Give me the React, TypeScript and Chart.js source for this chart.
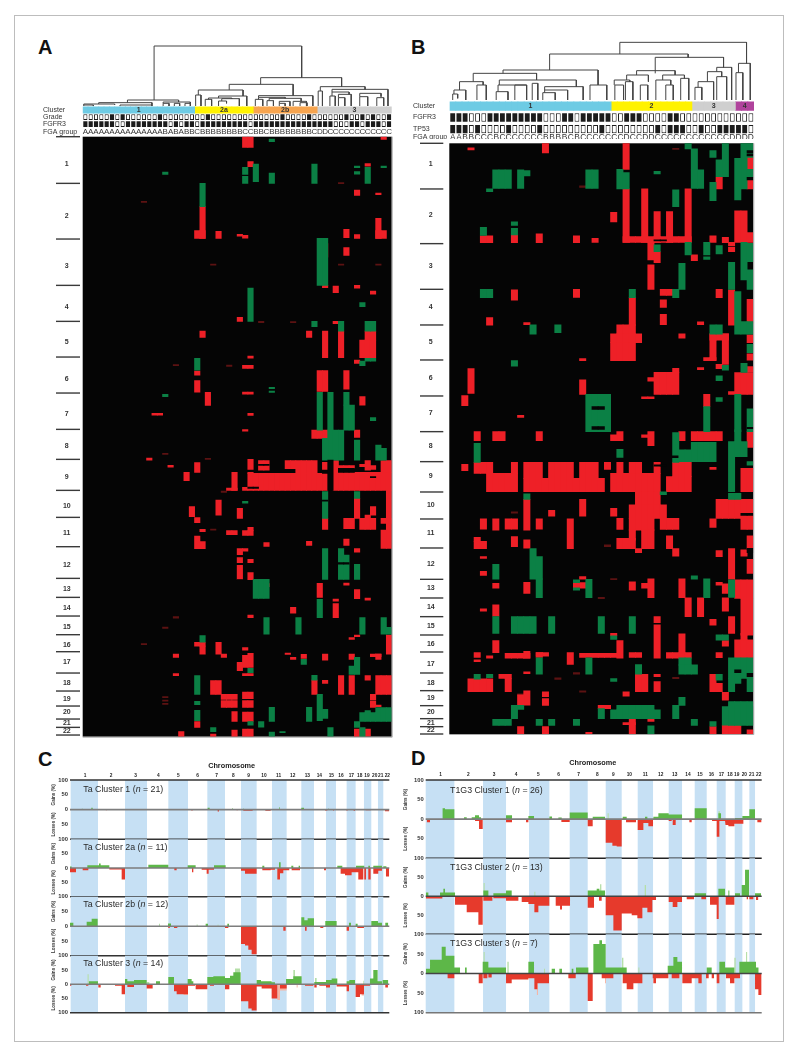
import React, { useEffect, useRef } from "react";
import { Chart, registerables } from "chart.js";

Chart.register(...registerables);

const SANS = '"Liberation Sans", Arial, sans-serif';
const INK = "#2a2a2a";
const RED = "#ee2027";
const GREEN = "#0b8045";
const FAINT = "#5c1212";
const PALE_GAIN = "#b5dfa8";
const PALE_LOSS = "#f5b5a5";
const GAIN = "#5db748";
const LOSS = "#e63a2c";
const BAND = "#c6e0f4";

// ---------- Panel A: samples, clusters, annotations ----------
const clustersA = [
  { name: "1", n: 21, color: "#6ecbe4" },
  { name: "2a", n: 11, color: "#fff200" },
  { name: "2b", n: 12, color: "#f6a44f" },
  { name: "3", n: 14, color: "#cfcfcf" },
];
const gradeA = "0000010100000010000000010000000000000100001000000100101001".split("");
const fgfr3A = "1111110011111111010110111111111011111111111111100011011101".split("");
const fgaA = "AAAAAAAAAAAAAAABABABBCBBBBBBBBCCBBCBBBBBBBBCDDCCCCCCCCCCCC".split("");

// merges: [left leaf, right leaf, merge height, left drop-to height, right drop-to height]
const dendroA = [
  [13.4, 41.1, 180, 18, 85], [33.4, 48.6, 85, 65, 58], [27.5, 39.5, 65, 48, 31],
  [21.7, 30.1, 48, 33, 30], [21.2, 22.2, 33, 0, 0], [25.5, 30.8, 30, 24, 0],
  [23.6, 28, 24, 20, 22], [23, 24.2, 20, 0, 0], [26.1, 29.4, 22, 15, 0], [25.5, 27, 15, 0, 8],
  [33, 43.2, 31, 26, 0], [33, 38, 26, 20, 23], [32.4, 33.8, 20, 0, 0],
  [35, 41, 23, 16, 14], [34.6, 35.8, 16, 0, 0], [36.9, 38.9, 14, 8, 0], [36.9, 38, 8, 0, 0],
  [39.5, 42, 14, 0, 0], [40.8, 42.1, 10, 0, 0],
  [44.6, 53, 58, 45, 50], [44.2, 45, 45, 0, 0], [46.8, 57.3, 50, 42, 0], [46.8, 50, 42, 30, 35],
  [46.4, 47.4, 30, 0, 0], [48, 50.4, 35, 25, 0], [48, 49.2, 25, 0, 0],
  [52, 56, 38, 28, 28], [52, 53.5, 28, 0, 0], [55.2, 56.5, 25, 0, 0],
  [8.4, 18, 18, 10, 12], [3, 13, 10, 6, 3], [0.2, 6, 6, 3, 4], [0.2, 2, 3, 0, 0], [7, 13, 3, 0, 0],
  [15.1, 20.2, 12, 8, 8], [15.1, 16.2, 8, 0, 0], [17.2, 18.2, 8, 0, 0], [19.2, 20.2, 8, 0, 0],
];

// ---------- Panel A: heat map blocks [first sample, end sample, genome start, genome end] ----------
const chromNames = Array.from({ length: 22 }, (_, i) => String(i + 1));
const boundsA = [20, 160, 327, 466, 574, 681, 789, 898, 988, 1081, 1162, 1250, 1345, 1402, 1458, 1514, 1565, 1629, 1683, 1728, 1767, 1792, 1815];
const labelRowsA = [103, 257, 408, 532, 637, 747, 852, 949, 1041, 1128, 1210, 1304, 1378, 1435, 1491, 1544, 1596, 1660, 1707, 1747, 1779, 1802];

const redA = [
  [30, 32, 20, 52], [31, 32, 95, 110], [56, 57, 20, 28], [53, 54, 101, 108], [51, 52, 180, 196], [55, 56, 189, 194],
  [22, 23, 230, 325], [21, 23, 302, 325], [25, 26, 304, 325], [29, 30, 313, 318], [30, 31, 316, 324], [49, 50, 298, 323],
  [51, 52, 314, 325], [55, 56, 265, 325], [55, 57, 302, 325], [45, 46, 341, 381], [49, 50, 353, 376], [45, 46, 466, 473],
  [47, 48, 468, 488], [51, 52, 466, 474], [54, 55, 483, 492], [29, 30, 562, 574], [47, 48, 574, 581], [22, 23, 603, 622],
  [42, 43, 603, 622], [45, 46, 603, 683], [48, 49, 603, 683], [52, 55, 630, 683], [53, 55, 603, 630], [31, 32, 678, 684],
  [51, 52, 690, 700], [30, 32, 706, 715], [21, 22, 723, 735], [21, 22, 752, 786], [44, 46, 722, 784], [49, 50, 722, 777],
  [23, 24, 787, 826], [30, 32, 786, 792], [52, 53, 800, 825], [13, 15, 850, 855], [31, 32, 850, 856], [30, 31, 899, 903],
  [43, 46, 900, 925], [51, 52, 900, 922],
  [12, 13, 984, 990], [16, 17, 1006, 1011], [21, 22, 998, 1027], [19, 20, 1027, 1052], [31, 32, 988, 1018], [33, 35, 992, 1020],
  [38, 40, 992, 1016], [40, 44, 992, 1030], [45, 46, 997, 1020], [31, 46, 1030, 1081], [31, 32, 1027, 1030], [30, 31, 1072, 1081],
  [28, 29, 1027, 1081], [27, 29, 1074, 1081], [47, 58, 1027, 1081], [47, 48, 992, 1027], [48, 51, 1007, 1015], [56, 58, 992, 1027],
  [53, 54, 992, 1020], [52, 53, 1003, 1010], [54, 55, 1007, 1018], [57, 58, 1081, 1255], [56, 58, 1165, 1180], [56, 57, 1200, 1255],
  [51, 52, 1105, 1165], [20, 21, 1130, 1160], [25, 26, 1110, 1155], [29, 30, 1135, 1165], [54, 55, 1130, 1155], [53, 54, 1155, 1165],
  [21, 22, 1163, 1178], [45, 46, 1165, 1198], [49, 51, 1165, 1196], [52, 55, 1165, 1198], [22, 23, 1198, 1205], [27, 29, 1202, 1214],
  [30, 32, 1202, 1216], [31, 32, 1192, 1202], [21, 22, 1218, 1256], [22, 23, 1235, 1256], [49, 50, 1227, 1246], [42, 43, 1234, 1246],
  [34, 35, 1238, 1249], [51, 52, 1256, 1266], [29, 30, 1256, 1274], [30, 31, 1256, 1263], [29, 30, 1283, 1298], [29, 30, 1306, 1348],
  [31, 32, 1288, 1298], [31, 32, 1328, 1349], [34, 35, 1361, 1370], [44, 45, 1360, 1402], [49, 50, 1359, 1365], [51, 52, 1379, 1406],
  [53, 54, 1404, 1410], [47, 48, 1407, 1413], [47, 48, 1421, 1463], [39, 40, 1432, 1449], [31, 32, 1455, 1463], [51, 52, 1515, 1520],
  [50, 51, 1523, 1528], [57, 58, 1515, 1572], [21, 23, 1537, 1548], [22, 23, 1548, 1572], [25, 26, 1537, 1572], [26, 27, 1572, 1582],
  [30, 31, 1553, 1560], [17, 18, 1572, 1582], [31, 32, 1570, 1612], [30, 31, 1576, 1612], [29, 30, 1597, 1622], [38, 39, 1569, 1573],
  [39, 40, 1582, 1588], [41, 42, 1573, 1585], [45, 46, 1572, 1590], [50, 51, 1572, 1588], [54, 56, 1572, 1580], [55, 56, 1572, 1588],
  [17, 18, 1631, 1637], [30, 32, 1631, 1637], [24, 26, 1652, 1693], [43, 44, 1650, 1693], [45, 46, 1651, 1660], [48, 49, 1637, 1693],
  [50, 51, 1637, 1693], [53, 54, 1637, 1650], [55, 58, 1637, 1693], [26, 29, 1693, 1708], [30, 32, 1686, 1706], [54, 55, 1693, 1710],
  [26, 29, 1712, 1732], [30, 32, 1712, 1732], [54, 55, 1714, 1732], [55, 56, 1725, 1730], [28, 29, 1745, 1774], [30, 32, 1746, 1774],
  [21, 22, 1775, 1792], [18, 19, 1805, 1820], [24, 25, 1812, 1820], [28, 29, 1800, 1820], [30, 32, 1797, 1820], [51, 52, 1797, 1820],
  [53, 54, 1797, 1818],
];
const greenA = [
  [35, 36, 27, 35], [32, 33, 102, 155], [30, 31, 112, 133], [30, 31, 139, 160], [35, 36, 129, 160], [43, 44, 102, 160],
  [15, 16, 126, 133], [53, 54, 112, 160], [51, 52, 108, 113], [51, 52, 125, 132], [56, 57, 108, 113], [22, 23, 160, 230],
  [44, 46, 325, 466], [31, 32, 474, 574], [52, 53, 518, 530], [43, 44, 574, 590], [48, 49, 574, 603], [53, 55, 574, 603],
  [21, 22, 685, 720], [53, 55, 685, 693], [52, 53, 693, 707], [35, 36, 772, 776], [35, 36, 783, 787], [15, 16, 793, 800],
  [44, 45, 787, 900], [46, 47, 787, 900], [49, 50, 787, 825], [49, 51, 825, 900], [54, 55, 863, 872],
  [46, 49, 900, 990], [45, 46, 925, 990], [51, 52, 930, 990], [55, 56, 945, 990], [56, 57, 955, 990],
  [45, 46, 1085, 1165], [51, 52, 1085, 1105], [30, 31, 1114, 1119], [48, 50, 1275, 1348], [48, 49, 1256, 1275],
  [45, 46, 1256, 1348], [51, 52, 1303, 1348], [32, 35, 1348, 1405], [44, 45, 1408, 1463], [34, 35, 1463, 1512],
  [40, 41, 1463, 1512], [52, 53, 1463, 1512], [56, 57, 1463, 1512], [57, 58, 1492, 1512], [22, 23, 1517, 1536],
  [41, 42, 1588, 1603], [51, 52, 1582, 1633], [50, 51, 1608, 1633], [31, 32, 1615, 1628], [21, 22, 1637, 1693],
  [43, 44, 1636, 1650], [21, 22, 1714, 1724], [21, 22, 1741, 1772], [44, 45, 1693, 1772], [45, 46, 1738, 1765],
  [35, 36, 1732, 1774], [42, 43, 1732, 1774], [52, 58, 1748, 1774], [55, 58, 1733, 1748], [53, 54, 1742, 1748],
  [31, 32, 1775, 1785], [33, 34, 1775, 1791], [51, 52, 1775, 1792], [46, 47, 1793, 1820], [52, 53, 1793, 1820],
  [35, 36, 1806, 1820], [24, 25, 1793, 1805], [37, 38, 1805, 1808],
];
const faintA = [
  [11, 12, 214, 217], [24, 25, 402, 405], [17, 18, 704, 707], [27, 28, 705, 709], [33, 34, 574, 578], [48, 49, 158, 161],
  [39, 40, 575, 578], [48, 49, 402, 405], [55, 56, 402, 405], [15, 16, 970, 973], [23, 24, 985, 988], [26, 27, 1083, 1087],
  [24, 25, 1197, 1200], [17, 18, 1460, 1464], [15, 16, 1491, 1495], [11, 12, 1541, 1544], [15, 16, 1700, 1703],
  [15, 16, 1710, 1713], [15, 16, 1720, 1723],
];
const darkA = [
  [33, 35, 1003, 1006], [31, 33, 1071, 1075], [48, 51, 1015, 1027], [45, 46, 1020, 1030], [46, 47, 990, 1081],
  [54, 55, 1040, 1043], [45, 46, 1110, 1113], [48, 50, 1298, 1302], [29, 30, 1349, 1352],
];

// ---------- Panel B ----------
const clustersB = [
  { name: "1", n: 26, color: "#6ecbe4" },
  { name: "2", n: 13, color: "#fff200" },
  { name: "3", n: 7, color: "#cfcfcf" },
  { name: "4", n: 3, color: "#b0439c" },
];
const fgfr3B = "1110001111111110001101111100111000011000000000000".split("");
const tp53B = "1110100001000010000000001000000001011100100111110".split("");
const fgaB = "AABBCCCBCCCCCCCBBBBCBCCCCCCCDCCDDCCCCCCCCCCCCDDDD".slice(0, 49).split("");

const dendroB = [
  [27.4, 47.8, 173, 138, 110], [16.1, 38.4, 138, 90, 128], [8.6, 23.9, 90, 80, 45], [3.8, 14, 80, 55, 60],
  [1.6, 5.4, 55, 30, 45], [0.7, 2.6, 30, 18, 0], [0.5, 1.3, 18, 0, 5], [4.4, 5.9, 45, 0, 0],
  [8, 20.4, 60, 45, 40], [7.8, 12.4, 45, 25, 45], [7.5, 9.4, 25, 0, 0], [10.5, 12.4, 45, 0, 0], [13.3, 14.2, 50, 0, 0],
  [15.3, 21.5, 40, 30, 0], [15.3, 19, 30, 22, 0], [15, 17, 22, 0, 0], [22.6, 25.3, 45, 0, 0],
  [33.1, 44.1, 128, 80, 98], [30.1, 36.3, 88, 75, 75], [28.5, 32, 75, 60, 55], [26.5, 29, 60, 45, 55],
  [26.6, 28, 45, 0, 0], [28.3, 29.5, 55, 0, 0], [30.7, 31.9, 45, 0, 0], [34.3, 37.8, 75, 60, 65],
  [33.2, 35.6, 60, 0, 45], [34.8, 36, 45, 0, 0], [37.2, 38.5, 65, 0, 0],
  [43, 45.4, 98, 85, 0], [41.5, 43.8, 85, 55, 70], [40, 42.5, 55, 38, 0], [39.5, 40.6, 38, 0, 0], [43, 44.6, 70, 0, 0],
  [46.5, 48.4, 110, 82, 0], [46.1, 47.2, 82, 0, 0],
];

const boundsB = [40, 177, 341, 478, 585, 690, 798, 905, 995, 1086, 1167, 1254, 1348, 1404, 1460, 1515, 1566, 1629, 1682, 1727, 1766, 1790, 1812];
const labelRowsB = [102, 255, 407, 530, 636, 745, 850, 947, 1039, 1126, 1208, 1302, 1375, 1432, 1489, 1541, 1601, 1658, 1705, 1745, 1778, 1800];

const redB = [
  [3, 4, 54, 60], [15, 16, 40, 69], [28, 29, 40, 118], [28, 29, 177, 337], [28, 39, 320, 337], [31, 32, 177, 337],
  [33, 34, 245, 337], [35, 36, 245, 337], [38, 39, 177, 337], [26, 27, 247, 276], [48, 49, 82, 118], [48, 49, 150, 177],
  [43, 44, 142, 177], [5, 7, 318, 338], [10, 11, 315, 338], [14, 15, 312, 338], [20, 21, 318, 338], [23, 24, 325, 337],
  [42, 43, 318, 337], [44, 45, 322, 338], [45, 46, 337, 348], [45, 46, 352, 365], [46, 48, 243, 337], [48, 49, 308, 337],
  [32, 33, 337, 390], [33, 34, 365, 398], [39, 40, 375, 392], [32, 33, 405, 478], [10, 11, 480, 510], [20, 21, 478, 502],
  [29, 30, 503, 585], [27, 30, 585, 612], [26, 31, 612, 638], [26, 30, 638, 692], [34, 36, 478, 496], [34, 35, 510, 532],
  [34, 35, 553, 584], [43, 44, 478, 503], [45, 46, 480, 585], [48, 49, 508, 580], [6, 7, 563, 585], [37, 38, 612, 624],
  [42, 45, 612, 630], [42, 43, 612, 690], [44, 45, 612, 703], [41, 43, 683, 692], [48, 49, 615, 638], [48, 49, 672, 690],
  [48, 49, 710, 726], [43, 44, 703, 716], [3, 4, 716, 790], [2, 3, 797, 827], [21, 22, 750, 793], [33, 37, 727, 793],
  [36, 37, 715, 727], [32, 33, 743, 753], [46, 49, 728, 793], [45, 46, 785, 793], [41, 42, 793, 830], [11, 12, 856, 862],
  [21, 22, 686, 692], [40, 41, 713, 719], [12, 13, 578, 584], [40, 41, 576, 584], [31, 33, 801, 806],
  [4, 5, 905, 932], [7, 9, 905, 932], [14, 15, 905, 932], [27, 28, 905, 932], [26, 27, 915, 932], [32, 33, 905, 947],
  [31, 32, 915, 922], [37, 38, 905, 932], [39, 44, 905, 932], [48, 49, 905, 952],
  [2, 3, 1003, 1022], [4, 7, 997, 1030], [6, 11, 1030, 1085], [10, 11, 997, 1030], [12, 15, 997, 1045], [16, 20, 997, 1045],
  [21, 24, 997, 1045], [12, 25, 1045, 1085], [25, 26, 997, 1018], [26, 34, 1030, 1085], [27, 28, 997, 1030], [29, 31, 997, 1030],
  [33, 34, 997, 1030], [35, 39, 1040, 1085], [36, 39, 997, 1040], [42, 43, 1012, 1018], [47, 49, 1015, 1085],
  [30, 34, 1085, 1125], [29, 35, 1125, 1165], [12, 13, 1108, 1200], [16, 17, 1141, 1158], [21, 22, 1108, 1158], [26, 27, 1135, 1158],
  [43, 49, 1108, 1165], [47, 49, 1165, 1198], [5, 6, 1167, 1197], [7, 8, 1167, 1200], [9, 11, 1167, 1197], [14, 15, 1167, 1197],
  [19, 20, 1167, 1256], [42, 43, 1167, 1192], [48, 49, 1218, 1256], [29, 33, 1165, 1200], [31, 33, 1200, 1256], [27, 28, 1165, 1198],
  [27, 30, 1225, 1256], [29, 30, 1200, 1230], [30, 31, 1256, 1268], [34, 37, 1165, 1198], [35, 36, 1218, 1256], [36, 37, 1256, 1278],
  [4, 6, 1234, 1256], [4, 5, 1222, 1234], [10, 11, 1220, 1250], [12, 13, 1230, 1254], [43, 44, 1262, 1280], [45, 46, 1256, 1347],
  [47, 48, 1260, 1278], [48, 49, 1288, 1330], [5, 6, 1280, 1285], [5, 6, 1324, 1336], [7, 8, 1360, 1374], [12, 13, 1357, 1390],
  [20, 22, 1358, 1374], [21, 22, 1340, 1347], [29, 30, 1356, 1380], [32, 33, 1347, 1403], [31, 32, 1360, 1374], [37, 38, 1347, 1403],
  [43, 44, 1357, 1365], [44, 45, 1362, 1390], [46, 49, 1350, 1405], [47, 49, 1405, 1515], [38, 39, 1404, 1460], [40, 41, 1404, 1460],
  [44, 45, 1404, 1443], [7, 8, 1425, 1458], [5, 6, 1437, 1443], [33, 34, 1460, 1478], [33, 34, 1485, 1584], [45, 46, 1460, 1510],
  [42, 43, 1468, 1485], [37, 38, 1512, 1584], [35, 39, 1568, 1584], [27, 28, 1532, 1584], [26, 27, 1510, 1517], [7, 8, 1532, 1568],
  [9, 13, 1570, 1584], [12, 13, 1564, 1584], [14, 16, 1568, 1578], [14, 15, 1568, 1582], [19, 20, 1568, 1603], [21, 27, 1570, 1582],
  [29, 31, 1568, 1582], [4, 5, 1568, 1582], [4, 5, 1590, 1595], [43, 44, 1568, 1583], [46, 49, 1530, 1584], [47, 48, 1510, 1530],
  [44, 45, 1532, 1548], [6, 7, 1578, 1584], [3, 7, 1647, 1685], [8, 10, 1633, 1645], [9, 10, 1645, 1685], [30, 32, 1633, 1685],
  [33, 34, 1655, 1685], [33, 34, 1633, 1640], [42, 43, 1633, 1685], [43, 44, 1660, 1685], [12, 13, 1626, 1631],
  [12, 13, 1683, 1725], [11, 12, 1695, 1725], [15, 16, 1686, 1700], [15, 16, 1706, 1726], [28, 29, 1686, 1698], [44, 45, 1687, 1710],
  [24, 26, 1726, 1736], [29, 30, 1768, 1812], [28, 30, 1778, 1784], [32, 33, 1768, 1774], [42, 43, 1790, 1812], [44, 47, 1786, 1812],
  [11, 12, 1790, 1812], [15, 16, 1790, 1812], [22, 23, 1807, 1812], [48, 49, 1800, 1812],
];
const greenB = [
  [7, 10, 120, 175], [11, 12, 120, 175], [12, 13, 122, 138], [6, 7, 177, 185], [22, 24, 120, 175], [27, 28, 118, 177],
  [28, 29, 128, 177], [33, 34, 124, 132], [38, 39, 40, 57], [39, 40, 57, 120], [39, 41, 120, 175], [42, 43, 62, 82],
  [44, 45, 40, 140], [43, 44, 90, 140], [42, 43, 157, 212], [47, 48, 40, 177], [46, 47, 85, 210], [48, 49, 40, 82],
  [48, 49, 118, 142], [36, 37, 180, 230], [5, 6, 292, 316], [10, 11, 276, 286], [10, 11, 295, 315], [38, 39, 337, 375],
  [41, 42, 337, 375], [41, 42, 381, 388], [43, 44, 347, 372], [33, 34, 345, 365], [45, 46, 397, 478], [47, 48, 337, 450],
  [48, 49, 340, 395], [48, 49, 420, 478], [37, 38, 400, 478], [5, 7, 478, 503], [29, 30, 478, 503], [36, 37, 478, 503],
  [46, 47, 485, 612], [47, 49, 575, 612], [13, 14, 585, 612], [17, 18, 585, 608], [42, 44, 585, 612], [10, 11, 692, 708],
  [47, 48, 700, 727], [48, 49, 643, 668], [44, 45, 706, 720], [43, 44, 738, 752], [22, 26, 793, 905], [41, 42, 830, 905],
  [43, 44, 803, 814], [46, 47, 793, 905], [48, 49, 837, 905],
  [4, 5, 940, 997], [36, 37, 908, 975], [39, 43, 937, 995], [37, 39, 960, 995], [45, 46, 935, 1085], [46, 48, 935, 980],
  [46, 47, 900, 935], [27, 28, 958, 982], [36, 37, 985, 997], [48, 49, 995, 1005], [12, 13, 1092, 1108], [45, 47, 1090, 1108],
  [34, 35, 1086, 1094], [13, 14, 1256, 1347], [14, 15, 1280, 1347], [14, 15, 1347, 1403], [7, 8, 1303, 1347], [22, 23, 1348, 1403],
  [20, 21, 1350, 1358], [20, 21, 1374, 1380], [39, 40, 1338, 1347], [41, 42, 1347, 1403], [45, 46, 1350, 1402], [7, 8, 1460, 1510],
  [10, 14, 1460, 1510], [16, 17, 1460, 1510], [24, 25, 1460, 1510], [29, 30, 1460, 1510], [26, 27, 1518, 1528], [43, 45, 1515, 1530],
  [14, 15, 1584, 1632], [22, 23, 1584, 1632], [30, 31, 1604, 1632], [37, 39, 1584, 1605], [37, 40, 1605, 1632], [45, 49, 1584, 1645],
  [45, 46, 1645, 1685], [46, 47, 1645, 1660], [48, 49, 1645, 1685], [4, 5, 1633, 1647], [6, 7, 1633, 1643], [26, 27, 1646, 1654],
  [43, 44, 1633, 1650], [37, 38, 1702, 1726], [10, 11, 1726, 1766], [11, 12, 1726, 1738], [7, 10, 1768, 1786], [14, 15, 1768, 1786],
  [16, 17, 1768, 1786], [20, 21, 1768, 1786], [24, 25, 1736, 1766], [26, 34, 1740, 1766], [27, 33, 1726, 1766], [36, 37, 1726, 1766],
  [39, 40, 1768, 1786], [44, 49, 1730, 1785], [45, 49, 1715, 1785], [32, 33, 1788, 1812], [42, 43, 1775, 1788],
];
const faintB = [
  [21, 22, 168, 172], [36, 37, 55, 58], [10, 11, 1146, 1149], [25, 26, 1245, 1250], [17, 18, 1644, 1648],
  [11, 12, 1692, 1696], [26, 27, 1346, 1349], [24, 25, 1402, 1406], [36, 37, 1642, 1646], [21, 22, 1683, 1686], [20, 21, 1628, 1632],
];
const darkB = [
  [23, 25, 830, 838], [23, 25, 890, 898], [48, 49, 62, 68], [48, 49, 72, 78], [48, 49, 142, 150], [33, 35, 1005, 1008],
  [47, 49, 1150, 1156], [48, 49, 1255, 1268], [48, 49, 892, 896], [33, 35, 330, 333], [46, 47, 1620, 1628], [48, 49, 1630, 1640],
];

// ---------- Panels C and D: chromosome bands and labels (genome position units) ----------
const bandsC = [[122, 204], [285, 351], [415, 474], [532, 585], [633, 680], [726, 770], [814, 852], [888, 918], [950, 977], [1002, 1024], [1044, 1060]];
const chromCentersC = [165, 243, 317, 385, 445, 503, 560, 610, 656, 702, 746, 788, 832, 868, 904, 933, 964, 989, 1011, 1034, 1052, 1072];
const bandsD = [[77, 163], [249, 318], [387, 448], [509, 563], [617, 665], [713, 759], [806, 846], [884, 920], [950, 977], [1004, 1027], [1048, 1065]];
const chromCentersD = [122, 205, 282, 348, 415, 476, 536, 592, 640, 688, 736, 782, 824, 864, 900, 934, 964, 990, 1010, 1033, 1055, 1076];

// [start, end, percent]
const c1Gains = [[155, 158, 3], [184, 188, 6], [379, 381, 4], [533, 539, 6], [606, 608, 5], [639, 642, 3], [708, 712, 2], [747, 749, 8], [814, 822, 6], [894, 897, 3], [910, 912, 3], [950, 952, 2]];
const c1Losses = [[227, 230, 2], [484, 488, 3], [563, 567, 6], [620, 623, 2], [640, 668, 4], [706, 722, 4], [885, 892, 3], [909, 912, 3], [949, 953, 3], [971, 975, 4], [1007, 1022, 2], [1065, 1078, 5]];
const c2Gains = [[120, 125, 5], [172, 238, 10], [207, 212, 16], [355, 415, 11], [473, 497, 10], [552, 587, 10], [697, 703, 8], [747, 752, 20], [784, 790, 8], [806, 810, 8], [922, 937, 8], [978, 1003, 8], [1015, 1020, 8], [1030, 1056, 8], [1060, 1070, 6]];
const c2Losses = [[120, 138, 15], [158, 175, 8], [238, 275, 5], [275, 285, 40], [433, 440, 8], [486, 490, 15], [515, 552, 6], [530, 536, 20], [633, 645, 10], [645, 680, 20], [697, 722, 8], [722, 735, 6], [742, 750, 40], [750, 760, 18], [760, 778, 8], [785, 810, 8], [882, 888, 8], [932, 945, 20], [945, 965, 25], [965, 985, 15], [985, 1000, 40], [1003, 1008, 40], [1015, 1022, 40], [1030, 1045, 20], [1045, 1056, 10], [1068, 1078, 30]];
const c3Gains = [[120, 130, 12], [170, 185, 15], [185, 203, 25], [414, 423, 9], [527, 534, 8], [592, 597, 8], [814, 823, 30], [823, 833, 20], [833, 852, 27], [886, 920, 18], [957, 963, 12], [977, 983, 8], [1024, 1044, 18], [1044, 1056, 12], [1066, 1075, 12]];
const c3Losses = [[414, 420, 5], [432, 442, 6], [585, 595, 6], [633, 645, 60], [645, 655, 65], [655, 665, 80], [665, 680, 95], [760, 767, 15], [825, 830, 15], [871, 880, 6], [950, 957, 15], [982, 1002, 6]];
const c4Gains = [[176, 204, 10], [285, 292, 18], [292, 312, 10], [312, 350, 15], [378, 390, 10], [415, 432, 25], [473, 485, 18], [485, 490, 10], [532, 550, 25], [550, 585, 28], [585, 600, 22], [600, 610, 30], [610, 632, 42], [680, 693, 15], [693, 725, 10], [725, 735, 7], [768, 790, 18], [790, 815, 28], [853, 888, 8], [888, 905, 15], [905, 922, 20], [950, 958, 10], [958, 975, 15], [1020, 1030, 20], [1030, 1043, 50], [1043, 1056, 10], [1058, 1075, 15]];
const c4Losses = [[120, 124, 5], [168, 175, 5], [205, 212, 12], [255, 275, 5], [275, 285, 35], [292, 312, 10], [350, 368, 15], [432, 440, 25], [440, 474, 35], [474, 495, 5], [497, 532, 18], [540, 552, 5], [585, 598, 18], [633, 655, 60], [655, 665, 85], [665, 680, 92], [680, 695, 8], [695, 725, 15], [725, 742, 50], [750, 770, 15], [825, 850, 5], [853, 860, 12], [868, 888, 5], [888, 900, 12], [920, 950, 8], [950, 957, 25], [977, 990, 45], [990, 1002, 35], [1002, 1020, 5], [1066, 1074, 12]];
const c4PaleGains = [[172, 176, 35], [615, 630, 55], [790, 795, 50], [855, 860, 22], [1000, 1003, 12], [350, 358, 8]];
const c4PaleLosses = [[742, 750, 55], [745, 770, 22], [460, 474, 38], [800, 803, 12], [995, 1002, 40]];
const c3PaleGains = [[387, 390, 8], [500, 503, 6], [563, 566, 6]];

const d1Gains = [[127, 135, 28], [135, 163, 25], [192, 200, 5], [215, 225, 5], [225, 237, 10], [237, 243, 5], [318, 336, 10], [385, 402, 8], [448, 456, 7], [475, 485, 4], [509, 563, 17], [578, 615, 6], [668, 680, 6], [735, 742, 6], [760, 775, 6], [775, 806, 15], [806, 846, 12], [884, 920, 28], [955, 963, 15], [1005, 1027, 3], [1027, 1048, 8], [1048, 1065, 25]];
const d1Losses = [[80, 90, 8], [225, 237, 5], [237, 248, 25], [318, 336, 8], [378, 385, 8], [484, 509, 7], [563, 578, 18], [617, 637, 60], [637, 650, 68], [650, 665, 70], [678, 708, 8], [713, 730, 28], [730, 745, 10], [745, 759, 18], [806, 815, 5], [818, 827, 15], [868, 875, 8], [936, 950, 5], [950, 958, 45], [958, 975, 5], [977, 990, 15], [985, 1003, 18], [1003, 1030, 12], [1072, 1085, 8]];
const d1PaleGains = [[622, 626, 15], [955, 960, 20]];
const d2Gains = [[77, 85, 10], [120, 165, 10], [130, 135, 20], [250, 265, 15], [280, 335, 8], [318, 335, 15], [563, 590, 15], [590, 598, 20], [598, 615, 15], [884, 918, 8], [955, 975, 20], [985, 988, 15], [1005, 1020, 8], [1025, 1035, 30], [1035, 1047, 70], [1065, 1083, 8]];
const d2Losses = [[77, 127, 6], [165, 200, 22], [200, 235, 42], [235, 248, 75], [250, 277, 12], [280, 318, 5], [318, 355, 12], [365, 385, 15], [385, 403, 20], [403, 415, 42], [415, 448, 25], [467, 510, 25], [480, 486, 35], [563, 582, 30], [597, 605, 12], [617, 640, 50], [640, 665, 90], [665, 695, 45], [695, 712, 50], [712, 727, 58], [727, 742, 30], [742, 757, 42], [757, 768, 10], [806, 818, 15], [818, 832, 28], [832, 846, 15], [860, 882, 8], [904, 918, 8], [930, 950, 22], [950, 956, 60], [977, 1003, 22], [1040, 1044, 8], [1048, 1060, 8], [1068, 1075, 10]];
const d2PaleGains = [[250, 254, 35], [734, 738, 30], [600, 604, 32], [403, 406, 12]];
const d3Gains = [[77, 90, 12], [90, 125, 35], [125, 137, 68], [137, 163, 45], [163, 180, 15], [195, 200, 15], [248, 265, 30], [265, 318, 15], [385, 402, 30], [455, 465, 12], [478, 486, 12], [515, 520, 12], [528, 565, 15], [580, 598, 75], [598, 606, 85], [606, 617, 75], [617, 668, 15], [668, 680, 15], [803, 820, 20], [820, 832, 42], [832, 846, 30], [920, 935, 15], [958, 975, 30], [975, 1003, 15], [1018, 1068, 30], [1068, 1076, 15]];
const d3Losses = [[142, 163, 12], [236, 248, 25], [250, 262, 12], [265, 275, 10], [318, 335, 25], [335, 385, 15], [385, 403, 12], [403, 412, 40], [412, 447, 25], [505, 527, 12], [563, 578, 70], [605, 640, 12], [668, 680, 25], [680, 700, 40], [700, 727, 25], [758, 805, 12], [760, 768, 25], [815, 838, 12], [847, 875, 25], [875, 895, 12], [895, 905, 25], [918, 926, 12], [935, 942, 12], [950, 958, 25], [978, 990, 12], [990, 1003, 25], [1003, 1020, 12], [1065, 1075, 40], [1075, 1085, 55]];
const d3PaleGains = [[250, 254, 55], [322, 326, 30], [432, 435, 12], [666, 670, 40], [715, 718, 15], [1003, 1007, 40], [1038, 1042, 55]];
const d3PaleLosses = [[410, 414, 55], [615, 618, 25]];

// ---------- builders ----------
const cells = (blocks: number[][]) =>
  blocks.flatMap(([a, b, y0, y1]) => {
    const out: any[] = [];
    for (let c = a; c < b; c++) out.push({ x: String(c), y: [y0, y1] });
    return out;
  });

const dendroPoints = (merges: number[][]) =>
  merges.flatMap(([l, r, h, hl, hr]) => [
    { x: l, y: hl }, { x: l, y: h }, { x: r, y: h }, { x: r, y: hr }, { x: l, y: null },
  ]);

const stepProfile = (segs: number[][], sign: number) => {
  const xs = Array.from(new Set(segs.flatMap((s) => [s[0], s[1]]))).sort((a, b) => a - b);
  const pts: any[] = [];
  for (let i = 0; i < xs.length - 1; i++) {
    const a = xs[i], b = xs[i + 1];
    let v = 0;
    for (const s of segs) if (s[0] <= a && s[1] >= b && s[2] > v) v = s[2];
    pts.push({ x: a, y: sign * v }, { x: b, y: sign * v });
  }
  if (pts.length) {
    pts.unshift({ x: pts[0].x, y: 0 });
    pts.push({ x: pts[pts.length - 1].x, y: 0 });
  }
  return pts;
};

function headerConfig(o: any) {
  const total = o.clusters.reduce((s: number, c: any) => s + c.n, 0);
  const datasets: any[] = [
    {
      type: "line", data: dendroPoints(o.dendro), borderColor: "#444", borderWidth: 1,
      pointRadius: 0, spanGaps: false, tension: 0, clip: false,
    },
  ];
  let start = 0;
  const centers: any[] = [];
  for (const c of o.clusters) {
    const pts: any[] = [];
    for (let i = start; i < start + c.n; i++) pts.push({ x: i + 0.5, y: o.strip });
    datasets.push({ type: "bar", data: pts, backgroundColor: c.color, barPercentage: 1, categoryPercentage: 1, grouped: false, inflateAmount: 0.4, borderWidth: 0 });
    centers.push({ name: c.name, x: start + c.n / 2 });
    start += c.n;
  }
  for (const row of o.rows) {
    const on = row.values.flatMap((v: string, i: number) => (v === "1" ? [{ x: i + 0.5, y: row.span }] : []));
    const off = row.values.flatMap((v: string, i: number) => (v === "0" ? [{ x: i + 0.5, y: row.span }] : []));
    datasets.push({ type: "bar", data: on, backgroundColor: "#1c1c1c", barPercentage: 0.78, categoryPercentage: 1, grouped: false, borderWidth: 0 });
    datasets.push({ type: "bar", data: off, backgroundColor: "#ffffff", borderColor: "#1c1c1c", borderWidth: 1, borderSkipped: false, barPercentage: 0.78, categoryPercentage: 1, grouped: false });
  }
  const textPlugin = {
    id: "headerText",
    afterDraw(chart: any) {
      const { ctx, scales } = chart;
      ctx.save();
      ctx.textBaseline = "middle";
      ctx.fillStyle = "#333";
      ctx.font = `7px ${SANS}`;
      ctx.textAlign = "left";
      for (const l of o.rowLabels) ctx.fillText(l.text, o.labelX, scales.y.getPixelForValue(l.y));
      ctx.textAlign = "center";
      ctx.font = `bold 7px ${SANS}`;
      for (const c of centers) ctx.fillText(c.name, scales.x.getPixelForValue(c.x), scales.y.getPixelForValue((o.strip[0] + o.strip[1]) / 2));
      ctx.font = `${o.letterSize}px ${SANS}`;
      o.letters.forEach((t: string, i: number) => ctx.fillText(t, scales.x.getPixelForValue(i + 0.5), scales.y.getPixelForValue(o.letterY)));
      ctx.restore();
    },
  };
  return {
    type: "bar",
    data: { datasets },
    options: {
      animation: false, responsive: false, devicePixelRatio: 1,
      layout: { padding: o.padding },
      plugins: { legend: { display: false }, tooltip: { enabled: false } },
      scales: {
        x: { type: "linear", min: 0, max: total, offset: false, display: false },
        y: { type: "linear", min: o.yMin, max: o.yMax, display: false },
      },
    },
    plugins: [textPlugin],
  };
}

function heatConfig(o: any) {
  const labels = Array.from({ length: o.samples }, (_, i) => String(i));
  const bar = (blocks: number[][], color: string) => ({
    data: cells(blocks), backgroundColor: color, barPercentage: 1, categoryPercentage: 1, grouped: false, inflateAmount: 0.4, borderWidth: 0,
  });
  const linePlugin = {
    id: "heatFrame",
    beforeDatasetsDraw(chart: any) {
      const { ctx, chartArea: a } = chart;
      ctx.save();
      ctx.fillStyle = "#050505";
      ctx.fillRect(a.left, a.top, a.right - a.left, a.bottom - a.top);
      ctx.restore();
    },
    afterDraw(chart: any) {
      const { ctx, scales, chartArea: a } = chart;
      ctx.save();
      ctx.strokeStyle = "#3a3a3a";
      ctx.lineWidth = 1.4;
      for (const b of o.bounds) {
        const y = scales.y.getPixelForValue(b);
        ctx.beginPath();
        ctx.moveTo(a.left - o.tickFrom, y);
        ctx.lineTo(a.left - o.tickTo, y);
        ctx.stroke();
      }
      ctx.strokeStyle = "#a8a8a8";
      ctx.lineWidth = 1;
      ctx.beginPath();
      ctx.moveTo(a.left, a.bottom + 0.5);
      ctx.lineTo(a.right + 0.5, a.bottom + 0.5);
      ctx.lineTo(a.right + 0.5, a.top);
      ctx.stroke();
      ctx.restore();
    },
  };
  return {
    type: "bar",
    data: { labels, datasets: [bar(o.dark, "#050505"), bar(o.green, GREEN), bar(o.red, RED), bar(o.faint, FAINT)] },
    options: {
      animation: false, responsive: false, devicePixelRatio: 1,
      layout: { padding: o.padding },
      plugins: { legend: { display: false }, tooltip: { enabled: false } },
      scales: {
        x: { type: "category", display: false, offset: true },
        y: {
          type: "linear", reverse: true, min: o.yMin, max: o.yMax, position: "left",
          afterBuildTicks: (ax: any) => { ax.ticks = o.labelRows.map((v: number) => ({ value: v })); },
          afterFit: (ax: any) => { ax.width = o.axisWidth; },
          grid: { display: false, drawTicks: false },
          border: { display: false },
          ticks: {
            autoSkip: false, crossAlign: "center", padding: o.labelPad, color: "#333",
            font: { family: SANS, size: 7, weight: "bold" },
            callback: (v: number) => chromNames[o.labelRows.indexOf(v)] ?? "",
          },
        },
      },
    },
    plugins: [linePlugin],
  };
}

function profileConfig(o: any) {
  const area = (segs: number[][], sign: number, color: string) => ({
    data: stepProfile(segs, sign), borderWidth: 0, pointRadius: 0, tension: 0, fill: "origin", backgroundColor: color, borderColor: color,
  });
  const plugin = {
    id: "profileFrame",
    beforeDatasetsDraw(chart: any) {
      const { ctx, scales, chartArea: a } = chart;
      ctx.save();
      ctx.fillStyle = BAND;
      for (const [s, e] of o.bands) {
        const x0 = scales.x.getPixelForValue(s), x1 = scales.x.getPixelForValue(e);
        ctx.fillRect(x0, a.top, x1 - x0, a.bottom - a.top);
      }
      ctx.restore();
    },
    afterDraw(chart: any) {
      const { ctx, scales, chartArea: a } = chart;
      ctx.save();
      const hline = (v: number, color: string, w: number) => {
        const y = scales.y.getPixelForValue(v);
        ctx.strokeStyle = color;
        ctx.lineWidth = w;
        ctx.beginPath();
        ctx.moveTo(a.left, y);
        ctx.lineTo(a.right, y);
        ctx.stroke();
      };
      hline(0, o.zeroColor, 1.6);
      if (o.isFirst) hline(100, "#333", 1.6);
      hline(-100, o.bottomColor, 1.6);

      ctx.fillStyle = "#333";
      ctx.font = `bold 4.6px ${SANS}`;
      ctx.textAlign = "center";
      ctx.textBaseline = "middle";
      for (const [text, v] of [["Gains (%)", 50], ["Losses (%)", -50]] as any) {
        ctx.save();
        ctx.translate(a.left - o.axisTitleOffset, scales.y.getPixelForValue(v));
        ctx.rotate(-Math.PI / 2);
        ctx.fillText(text, 0, 0);
        ctx.restore();
      }
      // title with an italic n
      ctx.fillStyle = INK;
      ctx.textAlign = "left";
      let x = scales.x.getPixelForValue(o.titleX);
      const y = a.top + o.titleDy;
      const parts: [string, boolean][] = [[`${o.title} (`, false], ["n", true], [` = ${o.n})`, false]];
      for (const [t, it] of parts) {
        ctx.font = `${it ? "italic " : ""}8.8px ${SANS}`;
        ctx.fillText(t, x, y);
        x += ctx.measureText(t).width;
      }
      if (o.isFirst) {
        ctx.fillStyle = "#222";
        ctx.textAlign = "center";
        ctx.font = `bold 7.3px ${SANS}`;
        ctx.fillText("Chromosome", scales.x.getPixelForValue(o.headX), a.top - o.headDy);
        ctx.font = `bold 4.8px ${SANS}`;
        o.centers.forEach((c: number, i: number) => ctx.fillText(chromNames[i], scales.x.getPixelForValue(c), a.top - o.numDy));
      }
      ctx.restore();
    },
  };
  const tickValues = o.isFirst ? [100, 50, 0, -50, -100] : [50, 0, -50, -100];
  return {
    type: "line",
    data: {
      datasets: [
        area(o.gains, 1, GAIN), area(o.losses, -1, LOSS),
        area(o.paleGains ?? [], 1, PALE_GAIN), area(o.paleLosses ?? [], -1, PALE_LOSS),
      ],
    },
    options: {
      animation: false, responsive: false, devicePixelRatio: 1,
      layout: { padding: o.padding },
      plugins: { legend: { display: false }, tooltip: { enabled: false } },
      scales: {
        x: { type: "linear", min: o.xMin, max: o.xMax, display: false },
        y: {
          type: "linear", min: -100, max: 100,
          afterBuildTicks: (ax: any) => { ax.ticks = tickValues.map((value) => ({ value })); },
          afterFit: (ax: any) => { ax.width = o.axisWidth; },
          grid: { display: false, drawTicks: false },
          border: { display: false },
          ticks: {
            autoSkip: false, padding: 2, color: "#333",
            font: { family: SANS, size: 5.8, weight: "bold" },
            callback: (v: number) => String(Math.abs(v)),
          },
        },
      },
    },
    plugins: [plugin],
  };
}

function ChartCanvas({ box, make }: { box: number[]; make: () => any }) {
  const ref = useRef<HTMLCanvasElement>(null);
  useEffect(() => {
    const chart = new Chart(ref.current as any, make());
    return () => chart.destroy();
  }, []);
  const [left, top, width, height] = box;
  return <canvas ref={ref} width={width} height={height} style={{ position: "absolute", left, top, width, height, display: "block" }} />;
}

const letterStyle = (left: number, top: number): React.CSSProperties => ({
  position: "absolute", left, top, font: `bold 20px ${SANS}`, color: "#111", lineHeight: "20px",
});

function profileBox(o: any, left: number, width: number) {
  const top = Math.floor(o.plotTop) - (o.isFirst ? 25 : 6);
  const bottom = Math.ceil(o.plotBottom) + 6;
  return {
    box: [left, top, width, bottom - top],
    padding: { top: o.plotTop - top, bottom: bottom - o.plotBottom, right: left + width - o.plotRight, left: 0 },
  };
}

const panelC = [
  { title: "Ta Cluster 1", n: 21, plotTop: 780, plotBottom: 839.3, gains: c1Gains, losses: c1Losses, isFirst: true, titleDy: 10 },
  { title: "Ta Cluster 2a", n: 11, plotTop: 839.3, plotBottom: 896.7, gains: c2Gains, losses: c2Losses, titleDy: 8 },
  { title: "Ta Cluster 2b", n: 12, plotTop: 896.7, plotBottom: 955.7, gains: c3Gains, losses: c3Losses, paleGains: c3PaleGains, titleDy: 7.6 },
  { title: "Ta Cluster 3", n: 14, plotTop: 955.7, plotBottom: 1012.7, gains: c4Gains, losses: c4Losses, paleGains: c4PaleGains, paleLosses: c4PaleLosses, titleDy: 7.6 },
].map((p) => ({
  ...p, xMin: 120, xMax: 1078, bands: bandsC, centers: chromCentersC, titleX: 160, headX: 605, headDy: 14.3, numDy: 4.3,
  axisWidth: 40, axisTitleOffset: 16.7, plotRight: 389.3, zeroColor: "#7d7d7d", bottomColor: "#333",
}));

const panelD = [
  { title: "T1G3 Cluster 1", n: 26, plotTop: 780, plotBottom: 858.3, gains: d1Gains, losses: d1Losses, paleGains: d1PaleGains, isFirst: true, titleDy: 10.7, zeroColor: "#7d7d7d", bottomColor: "#222" },
  { title: "T1G3 Cluster 2", n: 13, plotTop: 858.3, plotBottom: 934.3, gains: d2Gains, losses: d2Losses, paleGains: d2PaleGains, titleDy: 9.4, zeroColor: "#444", bottomColor: "#222" },
  { title: "T1G3 Cluster 3", n: 7, plotTop: 934.3, plotBottom: 1012.7, gains: d3Gains, losses: d3Losses, paleGains: d3PaleGains, paleLosses: d3PaleLosses, titleDy: 9, zeroColor: "#444", bottomColor: "#777" },
].map((p) => ({
  ...p, xMin: 77, xMax: 1085, bands: bandsD, centers: chromCentersD, titleX: 150, headX: 578, headDy: 17, numDy: 5.7,
  axisWidth: 25.7, axisTitleOffset: 19.7, plotRight: 761.7,
}));

export default function App() {
  return (
    <div style={{ position: "absolute", left: 0, top: 0, width: 800, height: 1055, background: "#fff", overflow: "hidden" }}>
      <div style={{ position: "absolute", left: 14, top: 15, width: 768, height: 1025, border: "1px solid #bdbdbd" }} />
      <div style={letterStyle(38, 37)}>A</div>
      <div style={letterStyle(411, 37)}>B</div>
      <div style={letterStyle(38, 749)}>C</div>
      <div style={letterStyle(411, 748)}>D</div>

      <ChartCanvas
        box={[30, 30, 370, 107]}
        make={() =>
          headerConfig({
            clusters: clustersA, dendro: dendroA, strip: [-3, -21],
            rows: [{ values: gradeA, span: [-25, -42] }, { values: fgfr3A, span: [-46, -63] }],
            rowLabels: [{ text: "Cluster", y: -12 }, { text: "Grade", y: -33.5 }, { text: "FGFR3", y: -54.5 }, { text: "FGA group", y: -78 }],
            letters: fgaA, letterY: -78, letterSize: 8, labelX: 13,
            yMin: -93, yMax: 228, padding: { left: 52.7, right: 8.3, top: 0, bottom: 0 },
          })
        }
      />
      <ChartCanvas
        box={[400, 30, 370, 109]}
        make={() =>
          headerConfig({
            clusters: clustersB, dendro: dendroB, strip: [-6, -31],
            rows: [{ values: fgfr3B, span: [-40, -65] }, { values: tp53B, span: [-75, -100] }],
            rowLabels: [{ text: "Cluster", y: -18 }, { text: "FGFR3", y: -52 }, { text: "TP53", y: -87 }, { text: "FGA group", y: -112 }],
            letters: fgaB, letterY: -112, letterSize: 8.4, labelX: 13,
            yMin: -117, yMax: 210, padding: { left: 49.6, right: 16, top: 0, bottom: 0 },
          })
        }
      />
      <ChartCanvas
        box={[50, 120, 344, 633]}
        make={() =>
          heatConfig({
            samples: 58, red: redA, green: greenA, faint: faintA, dark: darkA,
            bounds: boundsA, labelRows: labelRowsA, yMin: 20, yMax: 1820, axisWidth: 32.7, labelPad: 12,
            tickFrom: 26.7, tickTo: 2.7, padding: { top: 16.7, bottom: 16.3, right: 2.3, left: 0 },
          })
        }
      />
      <ChartCanvas
        box={[412, 120, 344, 634]}
        make={() =>
          heatConfig({
            samples: 49, red: redB, green: greenB, faint: faintB, dark: darkB,
            bounds: boundsB, labelRows: labelRowsB, yMin: 40, yMax: 1812, axisWidth: 37.3, labelPad: 14.6,
            tickFrom: 29.3, tickTo: 6, padding: { top: 23.3, bottom: 20, right: 2.7, left: 0 },
          })
        }
      />
      {panelC.map((p, i) => {
        const { box, padding } = profileBox(p, 30, 365);
        return <ChartCanvas key={"c" + i} box={box} make={() => profileConfig({ ...p, padding })} />;
      })}
      {panelD.map((p, i) => {
        const { box, padding } = profileBox(p, 400, 365);
        return <ChartCanvas key={"d" + i} box={box} make={() => profileConfig({ ...p, padding })} />;
      })}
    </div>
  );
}
